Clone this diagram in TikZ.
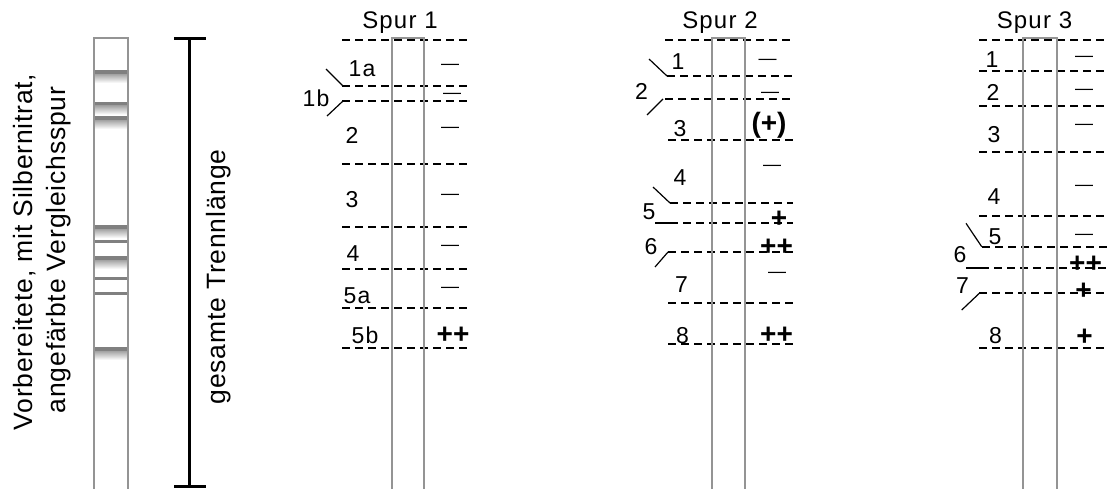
\documentclass[tikz,border=0pt]{standalone}
\usepackage{fontspec}
\setmainfont{Liberation Sans}
\newfontfamily\spfont[LetterSpace=5]{Liberation Sans}
\newfontfamily\rotfont[LetterSpace=3]{Liberation Sans}
\newcommand\labfnt{\spfont\fontsize{23}{27}\selectfont}
\newcommand\spurfnt{\spfont\fontsize{24}{28}\selectfont}
\newcommand\rotfnt{\rotfont\fontsize{26.5}{30}\selectfont}
\newcommand\sgnfnt{\fontsize{28}{32}\selectfont\bfseries}
\newcommand\mnsfnt{\fontsize{18}{21}\selectfont}
\begin{document}
\begin{tikzpicture}[x=1pt,y=-1pt,
  lab/.style={font=\labfnt,inner sep=0pt},
  spur/.style={font=\spurfnt,inner sep=0pt},
  rot/.style={font=\rotfnt,inner sep=0pt,rotate=90},
  sgn/.style={font=\sgnfnt,inner sep=0pt},
  mns/.style={font=\mnsfnt,inner sep=0pt},
  sepline/.style={line width=1.8pt,dash pattern=on 8pt off 5pt},
  strip/.style={draw=black!42,line width=1.8pt},
  leader/.style={line width=1.2pt},
  bandtop/.style={fill=black!50},
  bandfade/.style={top color=black!40,bottom color=white}]
\useasboundingbox (0,0) rectangle (1107,488);

% ---------- reference strip ----------
\foreach \y in {70,101.5,116,225,256,347}{
  \shade[bandfade] (95,\y+3) rectangle (127,\y+13);
  \fill[bandtop] (95,\y) rectangle (127,\y+3.5);
}
\foreach \y in {240,277.5,292.5}{
  \fill[bandtop] (95,\y-0.5) rectangle (127,\y+2.8);
}
\draw[strip] (94,490) -- (94,38) -- (128,38) -- (128,490);

\node[rot] (v1) at (25,252) {Vorbereitete, mit Silbernitrat,};
\node[rot] (v2) at (59,250) {angefärbte Vergleichsspur};

% ---------- bar ----------
\coordinate (bt) at (189,38);
\coordinate (bb) at (189,486);
\draw[line width=3pt] (bt) -- (bb);
\draw[line width=3pt] (174,38) -- (206,38);
\draw[line width=3pt] (174,486) -- (206,486);
\node[rot] (gt) at (219,277) {gesamte Trennlänge};

% ---------- Spur 1 ----------
\foreach \y in {40,86,101,164,227,269,308,348}
  \draw[sepline] (342,\y) -- (470,\y);
\draw[strip] (391.7,490) -- (391.7,38) -- (424.3,38) -- (424.3,490);
\node[spur] (t1) at (400,22.5) {Spur 1};
\node[lab] (a1a) at (362,69) {1a};
\node[lab] (a1b) at (316,98) {1b};
\node[lab] (a2) at (352,135) {2};
\node[lab] (a3) at (352,200) {3};
\node[lab] (a4) at (353,253.5) {4};
\node[lab] (a5a) at (357,296) {5a};
\node[lab] (a5b) at (365,335) {5b};
\coordinate (p1) at (326,69); \coordinate (q1) at (343,86);
\coordinate (p2) at (327,116); \coordinate (q2) at (343,101);
\draw[leader] (p1) -- (q1);
\draw[leader] (p2) -- (q2);
\node[mns] (am1) at (450,66.7) {—};
\node[mns] (am2) at (452,95.7) {—};
\node[mns] (am3) at (450,130) {—};
\node[mns] (am4) at (450,196.7) {—};
\node[mns] (am5) at (450,248.3) {—};
\node[mns] (am6) at (450,290) {—};
\node[sgn] (ap7) at (453,335) {++};

% ---------- Spur 2 ----------
\draw[sepline] (665,40) -- (793,40);
\draw[sepline] (667,76) -- (793,76);
\draw[sepline] (665,99) -- (793,99);
\draw[sepline] (668,140) -- (793,140);
\draw[sepline] (670,203) -- (793,203);
\draw[sepline] (670,223) -- (793,223);
\draw[sepline] (668,252) -- (793,252);
\draw[sepline] (668,303) -- (793,303);
\draw[sepline] (668,344) -- (793,344);
\draw[strip] (711.7,490) -- (711.7,38) -- (745,38) -- (745,490);
\node[spur] (t2) at (720,22.5) {Spur 2};
\node[lab] (b1) at (678,61.7) {1};
\node[lab] (b2) at (641.5,91.7) {2};
\node[lab] (b3) at (680,128.5) {3};
\node[lab] (b4) at (680,177.5) {4};
\node[lab] (b5) at (649,211.7) {5};
\node[lab] (b6) at (651,246.7) {6};
\node[lab] (b7) at (681.5,284.5) {7};
\node[lab] (b8) at (682.5,335.5) {8};
\coordinate (r1) at (649,59); \coordinate (u1) at (667,76);
\coordinate (r2) at (647,115); \coordinate (u2) at (663,99);
\coordinate (r3) at (653,187); \coordinate (u3) at (670,203);
\coordinate (r4) at (655,223); \coordinate (u4) at (670,223);
\coordinate (r5) at (655,267); \coordinate (u5) at (668,252);
\draw[leader] (r1) -- (u1);
\draw[leader] (r2) -- (u2);
\draw[leader] (r3) -- (u3);
\draw[leader] (r4) -- (u4);
\draw[leader] (r5) -- (u5);
\node[mns] (bm1) at (767.5,62.3) {—};
\node[mns] (bm2) at (770,95) {—};
\node[sgn] (bp3) at (769,125) {(+)};
\node[mns] (bm4) at (772,168) {—};
\node[sgn] (bp5) at (779,219.5) {+};
\node[sgn] (bp6) at (776.5,247.5) {++};
\node[mns] (bm7) at (777,275) {—};
\node[sgn] (bp8) at (776.5,335.5) {++};

% ---------- Spur 3 ----------
\draw[sepline] (979,40) -- (1107,40);
\draw[sepline] (979,71) -- (1107,71);
\draw[sepline] (979,106) -- (1107,106);
\draw[sepline] (979,152) -- (1107,152);
\draw[sepline] (979,216) -- (1107,216);
\draw[sepline] (982,247) -- (1107,247);
\draw[sepline] (981,268) -- (1107,268);
\draw[sepline] (979,293) -- (1107,293);
\draw[sepline] (979,348) -- (1107,348);
\draw[strip] (1023,490) -- (1023,38) -- (1057,38) -- (1057,490);
\node[spur] (t3) at (1034.5,22.5) {Spur 3};
\node[lab] (c1) at (992,60) {1};
\node[lab] (c2) at (993,92.5) {2};
\node[lab] (c3) at (994,135) {3};
\node[lab] (c4) at (994,196.5) {4};
\node[lab] (c5) at (995,236.5) {5};
\node[lab] (c6) at (960,254.5) {6};
\node[lab] (c7) at (962.5,285.5) {7};
\node[lab] (c8) at (995.5,335.5) {8};
\coordinate (k1) at (966,223.3); \coordinate (w1) at (981.7,246.7);
\coordinate (k2) at (966,268); \coordinate (w2) at (981,268);
\coordinate (k3) at (961.7,310); \coordinate (w3) at (979.3,293.3);
\draw[leader] (k1) -- (w1);
\draw[leader] (k2) -- (w2);
\draw[leader] (k3) -- (w3);
\node[mns] (cm1) at (1084,59.3) {—};
\node[mns] (cm2) at (1084,91.7) {—};
\node[mns] (cm3) at (1084,126.7) {—};
\node[mns] (cm4) at (1084,188.3) {—};
\node[mns] (cm5) at (1084,237.3) {—};
\node[sgn] (cp6) at (1085.5,264.5) {++};
\node[sgn] (cp7) at (1083.5,291) {+};
\node[sgn] (cp8) at (1084.5,337.5) {+};
\end{tikzpicture}
\end{document}
